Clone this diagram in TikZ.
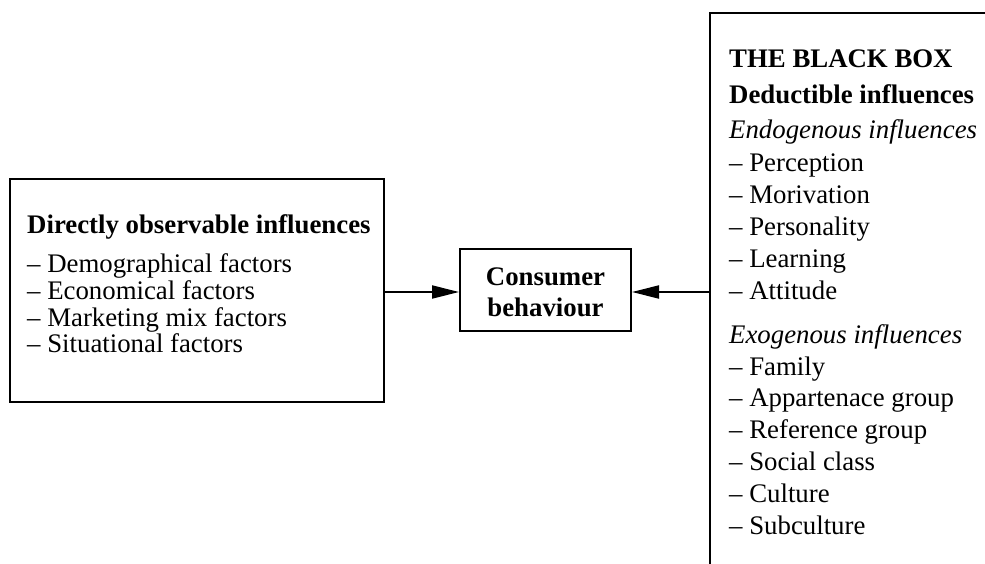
\documentclass[tikz,border=0pt]{standalone}
\usepackage{fontspec}
\setmainfont{Liberation Serif}
\usetikzlibrary{arrows.meta}
\begin{document}
\begin{tikzpicture}[x=1pt,y=-1pt,
  box/.style={draw, line width=2pt, inner sep=0pt},
  txt/.style={anchor=base west, inner sep=0pt, font=\fontsize{26.8}{31}\selectfont},
  btxt/.style={txt, font=\fontsize{26.8}{31}\selectfont\bfseries},
  itxt/.style={txt, font=\fontsize{26.8}{31}\selectfont\itshape},
  conn/.style={line width=2pt, -{Triangle[length=27pt,width=13pt]}}]
\useasboundingbox (0,0) rectangle (985,563);
\clip (0,0) rectangle (985,563);
% boxes
\node[box, minimum width=374pt, minimum height=223pt] (left) at (197,290.5) {};
\node[box, minimum width=171pt, minimum height=82pt] (cb) at (545.5,290) {};
\node[box, minimum width=290pt, minimum height=567pt] (rb) at (855,296.5) {};
% centre text
\node[btxt, anchor=base] (cb1) at (545.5,285) {Consumer};
\node[btxt, anchor=base] (cb2) at (545.5,316) {behaviour};
% left text
\node[btxt] (l0) at (27,233.3) {Directly observable influences};
\node[txt] (l1) at (27,272.7) {– Demographical factors};
\node[txt] (l2) at (27,299.4) {– Economical factors};
\node[txt] (l3) at (27,326.1) {– Marketing mix factors};
\node[txt] (l4) at (27,352.8) {– Situational factors};
% right text
\node[btxt] (r0) at (729,67) {THE BLACK BOX};
\node[btxt] (r1) at (729,103) {Deductible influences};
\node[itxt] (r2) at (729,138) {Endogenous influences};
\node[txt] (r3) at (729,171.5) {– Perception};
\node[txt] (r4) at (729,203.4) {– Morivation};
\node[txt] (r5) at (729,235.3) {– Personality};
\node[txt] (r6) at (729,267.2) {– Learning};
\node[txt] (r7) at (729,299.1) {– Attitude};
\node[itxt] (r8) at (729,343) {Exogenous influences};
\node[txt] (r9) at (729,375) {– Family};
\node[txt] (r10) at (729,406.8) {– Appartenace group};
\node[txt] (r11) at (729,438.6) {– Reference group};
\node[txt] (r12) at (729,470.4) {– Social class};
\node[txt] (r13) at (729,502.2) {– Culture};
\node[txt] (r14) at (729,534) {– Subculture};
% connectors
\draw[conn] (left.east |- 0,292) -- (cb.west |- 0,292);
\draw[conn] (rb.west |- 0,292) -- (cb.east |- 0,292);
\end{tikzpicture}
\end{document}
